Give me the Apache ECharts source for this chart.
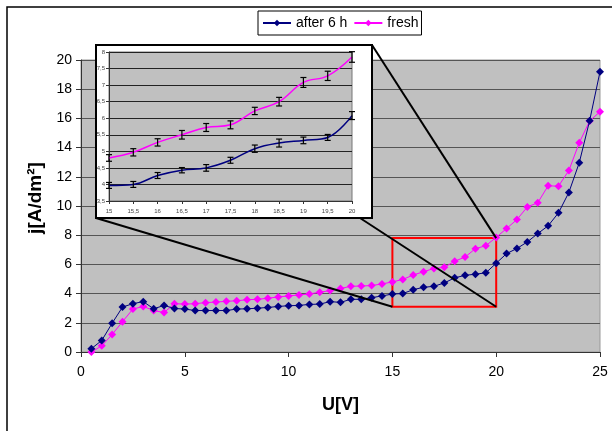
<!DOCTYPE html>
<html><head><meta charset="utf-8">
<script src="https://cdn.jsdelivr.net/npm/echarts@6/dist/echarts.min.js"></script>
<style>html,body{margin:0;padding:0;background:#fff}#c{width:612px;height:431px}</style>
</head><body><div id="c"></div>
<script>
// ---- data ----
const voltage = [0.5,1,1.5,2,2.5,3,3.5,4,4.5,5,5.5,6,6.5,7,7.5,8,8.5,9,9.5,10,
  10.5,11,11.5,12,12.5,13,13.5,14,14.5,15,15.5,16,16.5,17,17.5,18,18.5,19,19.5,20,
  20.5,21,21.5,22,22.5,23,23.5,24,24.5,25];
const after6h = [0.23,0.79,1.97,3.08,3.31,3.45,2.96,3.19,2.98,2.94,2.84,2.84,2.84,2.84,2.94,2.96,3.0,3.05,3.12,3.17,
  3.19,3.26,3.28,3.45,3.40,3.61,3.61,3.72,3.84,3.97,4.0,4.27,4.43,4.5,4.73,5.08,5.25,5.33,5.42,6.08,
  6.74,7.09,7.54,8.11,8.64,9.53,10.93,12.96,15.84,19.2];
const fresh = [0.0,0.42,1.2,2.08,2.94,3.12,2.84,2.7,3.31,3.28,3.31,3.38,3.42,3.47,3.51,3.58,3.61,3.68,3.77,3.84,
  3.91,3.98,4.09,4.21,4.35,4.5,4.52,4.55,4.66,4.8,4.97,5.27,5.5,5.72,5.8,6.22,6.5,7.08,7.28,7.85,
  8.46,9.07,9.94,10.22,11.38,11.36,12.43,14.33,15.82,16.46];
// inset (15..20 V) error bar half-widths
const errAfter = [0.09,0.09,0.09,0.08,0.10,0.09,0.11,0.12,0.10,0.09,0.12];
const errFresh = [0.10,0.11,0.11,0.13,0.12,0.12,0.11,0.13,0.15,0.14,0.16];
const insetU = [15, 20];
const zoomBoxU = [15, 20];
const zoomBoxJ = [3.1, 7.8];
const mainXTicks = {min:0, max:25, interval:5};
const mainYTicks = {min:0, max:20, interval:2};
const insetYTicks = {min:3.5, max:8, interval:0.5};
const insetXTicks = {min:15, max:20, interval:0.5};

// ---- layout ----
const FONT = "'Liberation Sans', Arial, sans-serif";
const frame = {x:96, y:45, w:276, h:173};
const BLUE = '#000080', MAG = '#FF00FF';

const pairs = (xs, ys) => xs.map((x,i)=>[x, ys[i]]);
const insetIdx = voltage.map((v,i)=>i).filter(i=>voltage[i]>=insetU[0] && voltage[i]<=insetU[1]);
const insetAfter = insetIdx.map((i,k)=>[voltage[i], after6h[i], errAfter[k]]);
const insetFresh = insetIdx.map((i,k)=>[voltage[i], fresh[i], errFresh[k]]);
const comma = v => String(v).replace('.', ',');

function errorBars(params, api){
  const x = api.value(0), y = api.value(1), e = api.value(2);
  const top = api.coord([x, y+e]), bot = api.coord([x, y-e]);
  const hw = 3;
  const style = {stroke:'#000', lineWidth:1.2};
  return {type:'group', children:[
    {type:'line', shape:{x1:top[0],y1:top[1],x2:bot[0],y2:bot[1]}, style},
    {type:'line', shape:{x1:top[0]-hw,y1:top[1],x2:top[0]+hw,y2:top[1]}, style},
    {type:'line', shape:{x1:bot[0]-hw,y1:bot[1],x2:bot[0]+hw,y2:bot[1]}, style}
  ]};
}

const chart = echarts.init(document.getElementById('c'), null, {renderer:'canvas'});
const option = {
  animation:false,
  backgroundColor:'#fff',
  textStyle:{fontFamily:FONT},
  legend:{
    data:['after 6 h','fresh'], left:258, top:11, padding:[5,3,5,4],
    itemWidth:28, itemHeight:8, itemGap:6,
    borderColor:'#000', borderWidth:1, backgroundColor:'#fff',
    textStyle:{fontFamily:FONT, fontSize:14, color:'#000'}
  },
  grid:[
    {left:81, top:60, width:519, height:292, show:true, backgroundColor:'#C0C0C0', borderColor:'#999', borderWidth:1, z:0},
    {left:109, top:52, width:243, height:149, show:true, backgroundColor:'#C0C0C0', borderColor:'#777', borderWidth:1, z:100}
  ],
  xAxis:[
    {type:'value', gridIndex:0, ...mainXTicks,
     name:'U[V]', nameLocation:'middle', nameGap:44,
     nameTextStyle:{fontFamily:FONT, fontSize:18, fontWeight:'bold', color:'#000'},
     axisLine:{lineStyle:{color:'#333', width:1}},
     axisTick:{show:true, length:5, lineStyle:{color:'#333'}},
     axisLabel:{margin:13, fontSize:14, color:'#000', fontFamily:FONT},
     splitLine:{show:false}},
    {type:'value', gridIndex:1, ...insetXTicks, z:101,
     axisLine:{lineStyle:{color:'#333', width:1}},
     axisTick:{show:true, length:3, lineStyle:{color:'#333'}},
     axisLabel:{margin:7, fontSize:6, color:'#444', fontFamily:FONT, formatter:comma},
     splitLine:{show:false}}
  ],
  yAxis:[
    {type:'value', gridIndex:0, ...mainYTicks,
     name:'j[A/dm²]', nameLocation:'middle', nameGap:36, nameRotate:90,
     nameTextStyle:{fontFamily:FONT, fontSize:19, fontWeight:'bold', color:'#000', padding:[0,0,0,16]},
     axisLine:{show:true, lineStyle:{color:'#333', width:1}},
     axisTick:{show:true, length:5, lineStyle:{color:'#333'}},
     axisLabel:{margin:9, fontSize:14, color:'#000', fontFamily:FONT},
     splitLine:{show:true, lineStyle:{color:'#555', width:1.2}}},
    {type:'value', gridIndex:1, ...insetYTicks, z:101,
     axisLine:{show:true, lineStyle:{color:'#333', width:1}},
     axisTick:{show:true, length:3, lineStyle:{color:'#333'}},
     axisLabel:{margin:4, fontSize:6, color:'#444', fontFamily:FONT, formatter:comma},
     splitLine:{show:true, lineStyle:{color:'#222', width:1}}}
  ],
  series:[
    {name:'after 6 h', type:'line', xAxisIndex:0, yAxisIndex:0, data:pairs(voltage, after6h),
     symbol:'diamond', symbolSize:8, color:BLUE, lineStyle:{width:1, color:BLUE}, itemStyle:{color:BLUE}, z:3,
     markArea:{silent:true, itemStyle:{color:'rgba(0,0,0,0)', borderColor:'#FF0000', borderWidth:2},
       data:[[{coord:[zoomBoxU[0], zoomBoxJ[0]]},{coord:[zoomBoxU[1], zoomBoxJ[1]]}]]}},
    {name:'fresh', type:'line', xAxisIndex:0, yAxisIndex:0, data:pairs(voltage, fresh),
     symbol:'diamond', symbolSize:8, color:MAG, lineStyle:{width:1, color:MAG}, itemStyle:{color:MAG}, z:2},
    {name:'inset fresh', type:'line', xAxisIndex:1, yAxisIndex:1, data:insetFresh.map(d=>[d[0],d[1]]),
     smooth:0.4, showSymbol:false, symbol:'none', lineStyle:{width:1.5, color:MAG}, color:MAG, z:102},
    {name:'inset after', type:'line', xAxisIndex:1, yAxisIndex:1, data:insetAfter.map(d=>[d[0],d[1]]),
     smooth:0.4, showSymbol:false, symbol:'none', lineStyle:{width:1.5, color:BLUE}, color:BLUE, z:102},
    {name:'err fresh', type:'custom', xAxisIndex:1, yAxisIndex:1, data:insetFresh, renderItem:errorBars, z:103},
    {name:'err after', type:'custom', xAxisIndex:1, yAxisIndex:1, data:insetAfter, renderItem:errorBars, z:103}
  ],
  graphic:[
    {id:'outer', type:'rect', z:-10, silent:true, shape:{x:7, y:7, width:640, height:460},
     style:{fill:null, stroke:'#000', lineWidth:1.5}},
    {id:'frame', type:'rect', z:50, silent:true, shape:{x:frame.x, y:frame.y, width:frame.w, height:frame.h},
     style:{fill:'#fff', stroke:'#000', lineWidth:2}}
  ]
};
chart.setOption(option);

// callout lines from inset frame to the zoom box
const tr = chart.convertToPixel({gridIndex:0}, [zoomBoxU[1], zoomBoxJ[1]]);
const bl = chart.convertToPixel({gridIndex:0}, [zoomBoxU[0], zoomBoxJ[0]]);
const br = chart.convertToPixel({gridIndex:0}, [zoomBoxU[1], zoomBoxJ[0]]);
const ls = {stroke:'#000', lineWidth:2};
chart.setOption({graphic:[
  {id:'l1', type:'line', z:40, silent:true, shape:{x1:frame.x+frame.w, y1:frame.y, x2:tr[0], y2:tr[1]}, style:ls},
  {id:'l2', type:'line', z:40, silent:true, shape:{x1:frame.x, y1:frame.y+frame.h, x2:bl[0], y2:bl[1]}, style:ls},
  {id:'l3', type:'line', z:40, silent:true, shape:{x1:frame.x+frame.w-12, y1:frame.y+frame.h, x2:br[0], y2:br[1]}, style:ls}
]});
</script>
</body></html>
